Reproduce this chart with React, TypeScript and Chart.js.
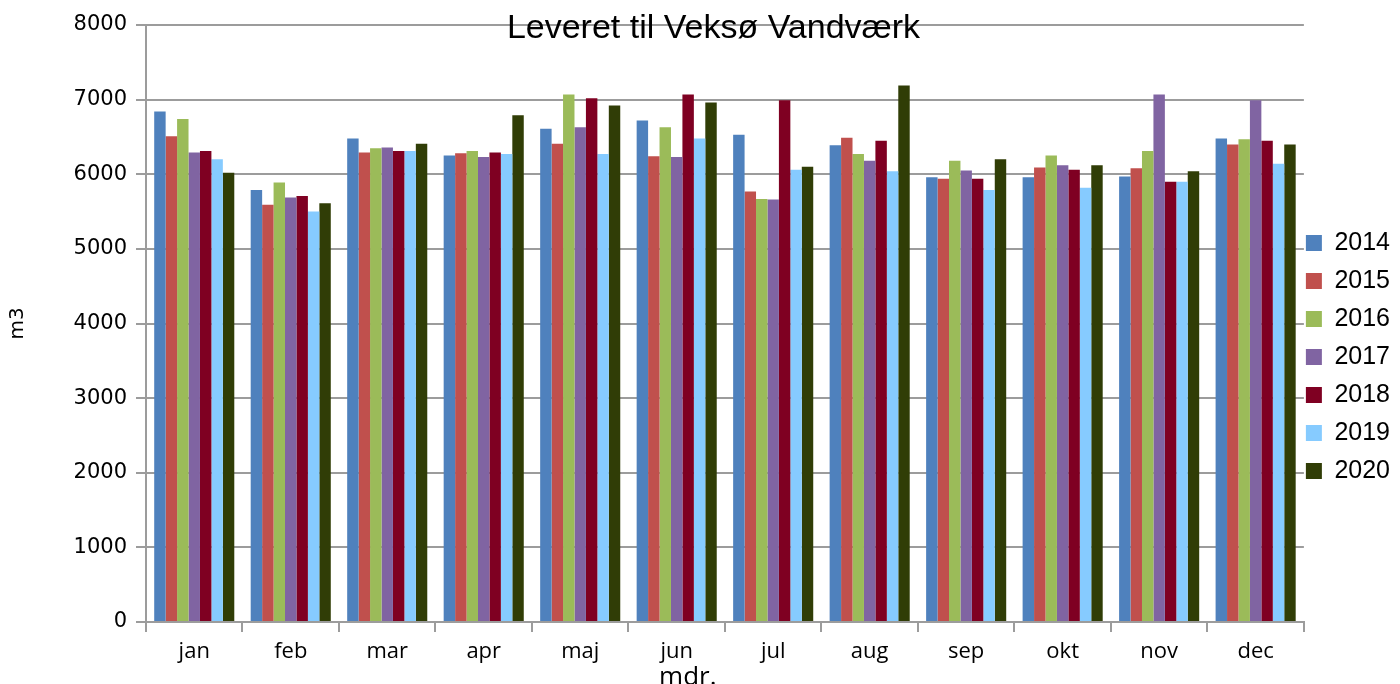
import React, { useEffect, useRef } from 'react';
import { Chart, registerables } from 'chart.js';

Chart.register(...registerables);

const months = ['jan', 'feb', 'mar', 'apr', 'maj', 'jun', 'jul', 'aug', 'sep', 'okt', 'nov', 'dec'];
const years = ['2014', '2015', '2016', '2017', '2018', '2019', '2020'];
const colors = ['#4F81BD', '#C0504D', '#9BBB59', '#8064A2', '#7F0022', '#86CBFF', '#303D06'];

const v2014 = [6840, 5790, 6480, 6250, 6610, 6720, 6530, 6390, 5960, 5960, 5970, 6480];
const v2015 = [6510, 5590, 6290, 6280, 6410, 6240, 5770, 6490, 5940, 6090, 6080, 6400];
const v2016 = [6740, 5890, 6350, 6310, 7070, 6630, 5670, 6270, 6180, 6250, 6310, 6470];
const v2017 = [6290, 5690, 6360, 6230, 6630, 6230, 5660, 6180, 6050, 6120, 7070, 6990];
const v2018 = [6310, 5710, 6310, 6290, 7020, 7070, 6990, 6450, 5940, 6060, 5900, 6450];
const v2019 = [6200, 5500, 6310, 6270, 6270, 6480, 6060, 6040, 5790, 5820, 5900, 6140];
const v2020 = [6020, 5610, 6410, 6790, 6920, 6960, 6100, 7190, 6200, 6120, 6040, 6400];
const seriesValues = [v2014, v2015, v2016, v2017, v2018, v2019, v2020];

const titleText = 'Leveret til Veksø Vandværk';
const yTitle = 'm3';
const xTitle = 'mdr.';

const GRID = '#9c9c9c';

export default function App() {
  const ref = useRef<HTMLCanvasElement | null>(null);

  useEffect(() => {
    if (!ref.current) return;
    const chart = new Chart(ref.current, {
      type: 'bar',
      data: {
        labels: months,
        datasets: years.map((y, i) => ({
          label: y,
          data: seriesValues[i],
          backgroundColor: colors[i],
          borderWidth: 0,
          categoryPercentage: 0.83,
          barPercentage: 1.0,
        })),
      },
      options: {
        animation: false,
        responsive: false,
        layout: { padding: { top: 25, left: 0, right: 0, bottom: 0 } },
        plugins: {
          title: { display: false },
          tooltip: { enabled: false },
          legend: {
            display: true,
            position: 'right',
            fullSize: false,
            align: 'center',
            title: { display: true, text: ' ', font: { size: 1, lineHeight: 1 }, padding: { top: 77, bottom: 0 } },
            labels: {
              boxWidth: 16,
              boxHeight: 16,
              padding: 2,
              color: '#000',
              font: { family: '"Liberation Sans", Arial, sans-serif', size: 25, lineHeight: 36 / 25 },
              generateLabels: (c: any) =>
                (Chart.defaults.plugins.legend.labels.generateLabels as any)(c).map((l: any) => ({ ...l, text: [l.text], lineWidth: 0 })),
            },
          },
        },
        scales: {
          x: {
            grid: { display: true, drawOnChartArea: false, drawTicks: true, tickLength: 10, color: GRID, lineWidth: 2, offset: true },
            border: { display: true, color: GRID, width: 2 },
            ticks: { color: '#000', padding: 7, font: { family: '"Open Sans", sans-serif', size: 22 } },
            title: {
              display: true,
              text: xTitle + '           ',
              color: '#000',
              font: { family: '"Open Sans", sans-serif', size: 26, lineHeight: 1 },
              padding: { top: 0, bottom: -7 },
            },
            afterFit: (s: any) => { s.height = 62; },
          },
          y: {
            min: 0,
            max: 8000,
            ticks: {
              stepSize: 1000,
              color: '#000',
              padding: 9,
              font: { family: '"DejaVu Sans", sans-serif', size: 21 },
              callback: (v: any) => String(v),
            },
            grid: { color: GRID, lineWidth: 2, tickLength: 10, drawTicks: true },
            border: { display: true, color: GRID, width: 2 },
            title: {
              display: true,
              text: yTitle,
              color: '#000',
              font: { family: '"DejaVu Sans", sans-serif', size: 20, lineHeight: 1.2 },
              padding: { top: 6, bottom: 0 },
            },
            afterFit: (s: any) => { s.width = 146; },
          },
        },
      } as any,
    });
    return () => chart.destroy();
  }, []);

  return (
    <div style={{ position: 'absolute', left: 0, top: 0, width: 1400, height: 684, overflow: 'hidden', background: '#fff' }}>
      <canvas ref={ref} width={1400} height={684} style={{ display: 'block' }} />
      <div
        style={{
          position: 'absolute',
          left: 0,
          top: 9,
          width: 1427,
          height: 34,
          lineHeight: '34px',
          textAlign: 'center',
          fontFamily: '"Liberation Sans", Arial, sans-serif',
          fontSize: 34,
          color: '#000',
          pointerEvents: 'none',
          whiteSpace: 'nowrap',
        }}
      >
        {titleText}
      </div>
    </div>
  );
}
